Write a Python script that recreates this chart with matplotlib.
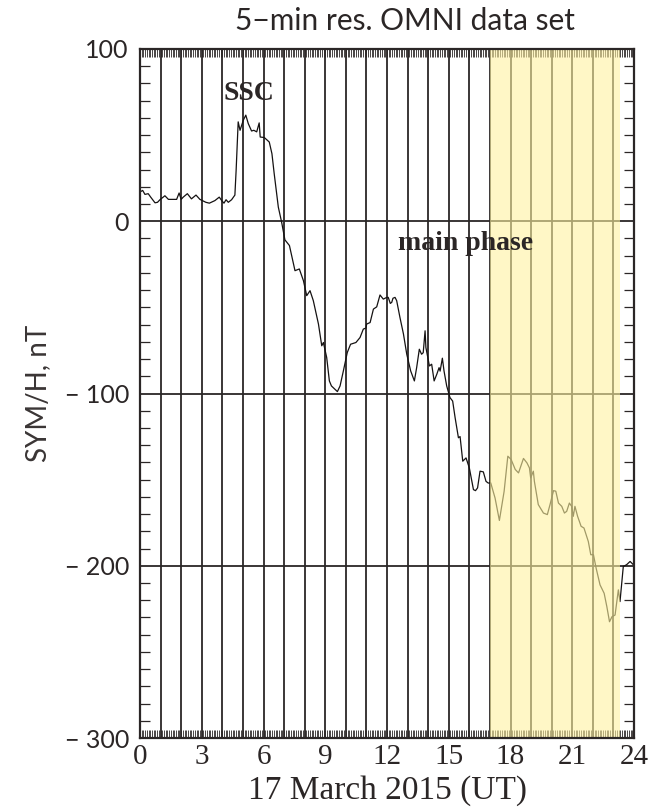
import matplotlib
matplotlib.use("Agg")
import matplotlib.pyplot as plt
from matplotlib.ticker import MultipleLocator

# SYM-H index, 17 March 2015 (hours UT, nT)
hours = [0.0, 0.13, 0.24, 0.4, 0.52, 0.73, 0.85, 0.97, 1.21, 1.38, 1.78, 1.9, 2.0,
         2.1, 2.3, 2.5, 2.72, 2.91, 3.2, 3.37, 3.64, 3.85, 3.97, 4.08, 4.18, 4.29,
         4.45, 4.61, 4.67, 4.77, 4.86, 5.02, 5.14, 5.26, 5.42, 5.53, 5.67, 5.79,
         5.84, 6.04, 6.28, 6.41, 6.52, 6.72, 6.88, 7.04, 7.26, 7.53, 7.74, 7.94,
         8.1, 8.26, 8.42, 8.67, 8.83, 8.91, 9.07, 9.2, 9.3, 9.59, 9.72, 9.88,
         10.07, 10.23, 10.49, 10.69, 10.85, 10.98, 11.01, 11.18, 11.34, 11.5,
         11.66, 11.82, 11.99, 12.06, 12.16, 12.23, 12.29, 12.39, 12.47, 12.63,
         12.8, 12.96, 13.15, 13.33, 13.44, 13.57, 13.68, 13.76, 13.85, 13.89,
         14.06, 14.17, 14.29, 14.42, 14.53, 14.58, 14.69, 14.77, 14.9, 15.06,
         15.19, 15.31, 15.47, 15.55, 15.68, 15.84, 16.0, 16.2, 16.3, 16.4, 16.52,
         16.68, 16.81, 16.92, 17.04, 17.25, 17.46, 17.69, 17.87, 18.03, 18.23,
         18.39, 18.63, 18.8, 18.92, 18.98, 19.11, 19.16, 19.35, 19.6, 19.79,
         19.92, 20.09, 20.2, 20.33, 20.49, 20.62, 20.73, 20.86, 20.97, 21.05,
         21.13, 21.26, 21.43, 21.57, 21.78, 21.9, 22.03, 22.16, 22.35, 22.55,
         22.68, 22.81, 22.93, 23.08, 23.24, 23.32, 23.48, 23.64, 23.81, 23.97]
sym_h = [17, 17.9, 15.6, 16, 14, 10.7, 11, 12.5, 14.8, 12.7, 12.7, 16.4, 12.7,
         14, 16, 13, 15.2, 12.7, 11, 10.5, 12, 14, 12, 10.5, 12.5, 11,
         12.5, 15.2, 29.5, 57.7, 52.8, 58.7, 61.6, 56.7, 52.4, 52.8, 51.9, 57.1,
         48.9, 48.6, 46, 39.2, 27.6, 8.2, -0.5, -10.8, -14.1, -28.7, -27.7, -34.5,
         -43.2, -40.3, -46.1, -59.7, -72.3, -70.4, -79.1, -92.7, -95.6, -98.9, -95.6, -86.9,
         -76.2, -71.4, -70.4, -67.5, -62.6, -62, -59.7, -58.8, -51, -49.7,
         -42.8, -45.2, -44.2, -44.2, -47.7, -47.1, -44.7, -44.2, -46.1, -55.9,
         -65.5, -77.2, -86.9, -92.7, -85, -74.3, -77.2, -76.3, -63.6, -73.3,
         -84, -83, -92.7, -88.8, -85, -87, -79.5, -86.9, -95.6, -102.4,
         -104.4, -114.1, -125.7, -125, -139.3, -137.4, -143.2, -155.8, -156.4, -154.8, -145.1,
         -145.5, -151, -152, -151.9, -160.7, -173.7, -156.8, -136.4, -138.3, -144.1,
         -146.1, -137.7, -140.3, -143.2, -149, -145.1, -151, -164.5, -169.4, -170.3,
         -164.5, -156.4, -156.7, -163.6, -165.5, -169.4, -168.4, -163.6, -165.5, -171.3,
         -165.5, -171.3, -177.1, -178.1, -185.9, -193.6, -193.6, -201.4, -211.1, -216,
         -223.7, -232.5, -229.6, -228.6, -214, -220.8, -200.4, -199.4, -197.5, -199.4]

hour_lines = list(range(1, 24))
level_lines = [0, -100, -200]
x_ticks = [0, 3, 6, 9, 12, 15, 18, 21, 24]
x_tick_labels = [str(t) for t in x_ticks]
y_ticks = [100, 0, -100, -200, -300]
y_tick_labels = ["100", "0", "\u2212 100", "\u2212 200", "\u2212 300"]
main_phase_span = (17.0, 23.33)

sans = ["Lato", "DejaVu Sans"]
serif = ["Liberation Serif", "DejaVu Serif"]
ink = "#2b2626"

fig = plt.figure(figsize=(6.49, 8.11), dpi=100)
ax = fig.add_axes([140 / 649, 1 - 738 / 811, 494 / 649, 689 / 811])

for h in hour_lines:
    ax.axvline(h, color=ink, lw=1.3, zorder=1.5)
for v in level_lines:
    ax.axhline(v, color=ink, lw=1.3, zorder=1.5)

ax.plot(hours, sym_h, color="#151212", lw=0.9, zorder=2)

ax.axvspan(*main_phase_span, color="#fff3a0", alpha=0.6, lw=0, zorder=2.2)

ax.set_xlim(0, 24)
ax.set_ylim(-300, 100)

ax.xaxis.set_minor_locator(MultipleLocator(5 / 60))
ax.yaxis.set_minor_locator(MultipleLocator(10))
ax.set_xticks(x_ticks)
ax.set_xticklabels(x_tick_labels, family=serif, fontsize=21, color=ink)
ax.set_yticks(y_ticks)
ax.set_yticklabels(y_tick_labels, family=sans, fontsize=18, color=ink)

ax.tick_params(axis="x", which="both", direction="in", top=True, bottom=True,
               length=6, width=0.6, color=ink, pad=4)
ax.tick_params(axis="y", which="both", direction="in", left=True, right=True,
               length=7, width=0.9, color=ink, pad=8)
ax.tick_params(axis="y", which="major", length=0)

for sp in ax.spines.values():
    sp.set_linewidth(1.6)
    sp.set_color(ink)

ax.set_xlabel("17 March 2015 (UT)", family=serif, fontsize=24, color=ink, labelpad=4)
ax.set_ylabel("SYM/H, nT", family=sans, fontsize=20, color="#3a3535", labelpad=10)
ax.set_title("5\u2212min res. OMNI data set", family=sans, fontsize=21.5,
             color=ink, pad=14, x=0.536)

ax.text(5.3, 74, "SSC", family=serif, fontweight="bold", fontsize=20,
        color=ink, ha="center", va="center", zorder=3)
ax.text(15.8, -13, "main phase", family=serif, fontweight="bold", fontsize=20,
        color=ink, ha="center", va="center", zorder=3)

fig.savefig("out.png", dpi=100)
